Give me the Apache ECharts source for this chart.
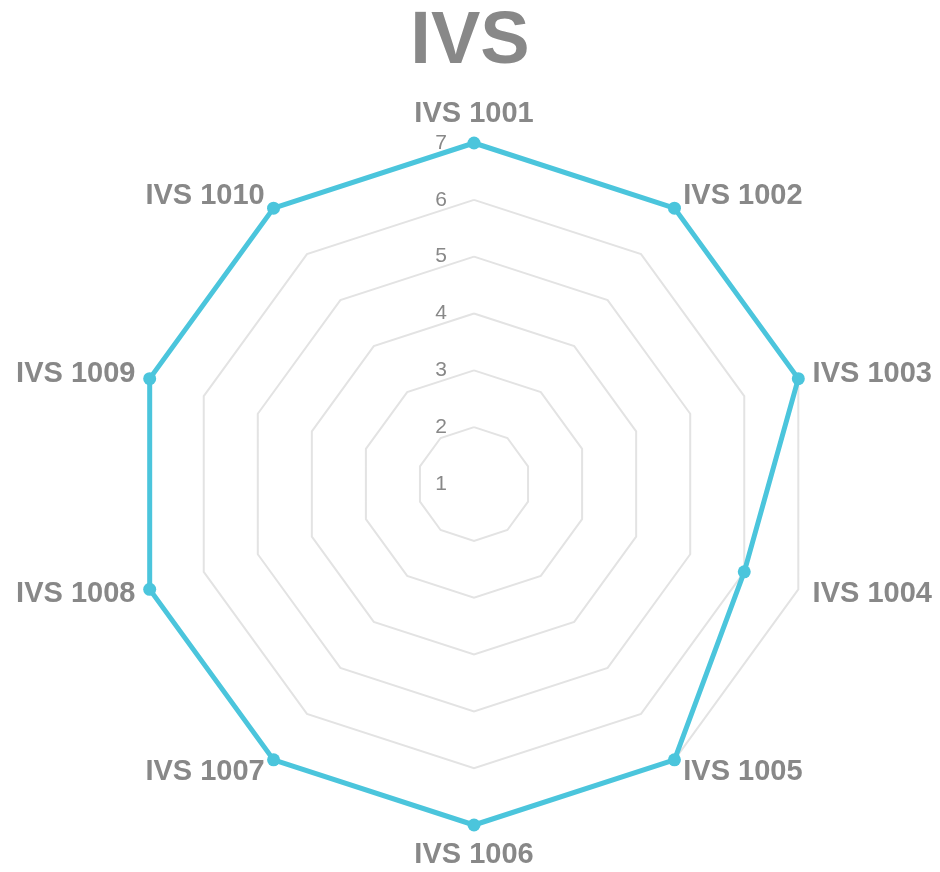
<!DOCTYPE html>
<html>
<head>
<meta charset="utf-8">
<script src="https://cdn.jsdelivr.net/npm/echarts@6/dist/echarts.min.js"></script>
<style>
  html, body { margin: 0; padding: 0; background: #fff; }
  #main { width: 940px; height: 872px; }
</style>
</head>
<body>
<div id="main"></div>
<script>
// radar data (clockwise from the top)
const indicators = ['IVS 1001', 'IVS 1002', 'IVS 1003', 'IVS 1004', 'IVS 1005',
                    'IVS 1006', 'IVS 1007', 'IVS 1008', 'IVS 1009', 'IVS 1010'];
const scores = [7, 7, 7, 6, 7, 7, 7, 7, 7, 7];
const axisMin = 1;
const axisMax = 7;

// echarts lays radar axes out counter-clockwise, so keep the first one and reverse the rest
const order = [0].concat(indicators.map((_, i) => i).slice(1).reverse());

const tickLabel = { color: '#888', fontSize: 21, fontFamily: 'Liberation Sans', margin: 27 };

const chart = echarts.init(document.getElementById('main'));

const option = {
    animation: false,
    title: {
        text: 'IVS',
        left: 'center',
        top: 1,
        textStyle: { fontFamily: 'Liberation Sans', fontSize: 74, fontWeight: 'bold', color: '#888' }
    },
    radar: {
        center: [474, 484],
        radius: 341,
        startAngle: 90,
        splitNumber: 6,
        shape: 'polygon',
        indicator: order.map(i => ({
            name: indicators[i],
            min: axisMin,
            max: axisMax,
            axisLabel: Object.assign({ show: i === 0 }, tickLabel)
        })),
        axisName: {
            color: '#888',
            fontFamily: 'Liberation Sans',
            fontSize: 29,
            fontWeight: 'bold'
        },
        nameGap: 15,
        axisLine: { show: false },
        axisTick: { show: false },
        axisLabel: Object.assign({ show: false }, tickLabel),
        splitLine: { lineStyle: { color: '#e3e3e3', width: 2 } },
        splitArea: { show: false }
    },
    series: [{
        type: 'radar',
        symbol: 'circle',
        symbolSize: 13,
        itemStyle: { color: '#4bc5dc' },
        lineStyle: { color: '#4bc5dc', width: 5 },
        data: [{ value: order.map(i => scores[i]), name: 'IVS' }]
    }]
};

chart.setOption(option);
</script>
</body>
</html>
